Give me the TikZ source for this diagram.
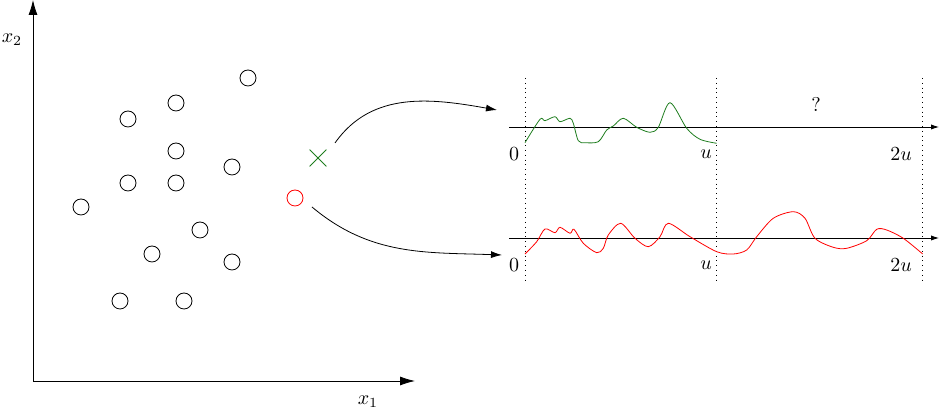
\documentclass[tikz,border=0pt]{standalone}
\usetikzlibrary{arrows.meta,shapes.misc}
\definecolor{darkgreen}{RGB}{30,125,30}
\tikzset{
  sample/.style={circle,draw,minimum size=8pt,inner sep=0pt},
  bigtip/.style={-{Latex[length=7.5pt,width=4.5pt]}},
  midtip/.style={-{Latex[length=5.5pt,width=3.5pt]}},
  smalltip/.style={-{Latex[length=4pt,width=2.6pt]}},
}
\begin{document}
\begin{tikzpicture}[x=0.5pt,y=-0.5pt]
\useasboundingbox (0,0) rectangle (939,410);
\coordinate (origin) at (33,381);
\draw[bigtip] (origin) -- (33,0);
\draw[bigtip] (origin) -- (415,381);
\node at (12,40) {$x_2$};
\node at (368,402) {$x_1$};
\node[sample] (s1) at (248,78) {};
\node[sample] (s2) at (176,103) {};
\node[sample] (s3) at (128,119) {};
\node[sample] (s4) at (176,151) {};
\node[sample] (s5) at (232,167) {};
\node[sample] (s6) at (128,183) {};
\node[sample] (s7) at (176,183) {};
\node[sample] (s8) at (81,207) {};
\node[sample] (s9) at (200,230) {};
\node[sample] (s10) at (152,254) {};
\node[sample] (s11) at (232,262) {};
\node[sample] (s12) at (120,301) {};
\node[sample] (s13) at (184,301) {};
\node[cross out,draw=darkgreen,minimum size=8pt,inner sep=0pt] (known) at (318,158) {};
\node[sample,draw=red] (query) at (295,198) {};
\coordinate (topin) at (497,110);
\coordinate (botin) at (502,255);
\draw[midtip] ([shift={(17,-15)}]known.center) to[out=55,in=170] (topin);
\draw[midtip] ([shift={(17,9)}]query.center) to[out=-40,in=178] (botin);
\draw[smalltip] (509,127) -- (939,127);
\draw[smalltip] (509,238) -- (939,238);
\foreach \x in {525,716,922} \draw[dotted] (\x,78) -- (\x,280);
\node at (514,154) {$0$};
\node at (706,154) {$u$};
\node at (901,154) {$2u$};
\node at (514,265) {$0$};
\node at (706,265) {$u$};
\node at (901,265) {$2u$};
\node at (816,104) {?};
\draw[darkgreen] plot[smooth,tension=0.5] coordinates {(525,142.7) (540,119.3) (545,120.7) (555,116.7) (560,121.7) (570,118.3) (573.3,123.3) (578.3,140.7) (585,142.7) (598.3,141.7) (606.7,130) (613.3,126) (623.3,118.3) (636.7,127.3) (650,132.3) (658.3,127.3) (670,102.7) (686.7,128.3) (700,139.3) (716.7,143.3)};
\draw[red] plot[smooth,tension=0.5] coordinates {(525,254) (536.7,241.7) (545,229) (555,232.7) (560,227.3) (570,233.3) (574,229.3) (583.3,243.3) (596.7,252.7) (603.3,248.3) (608.3,235) (620.7,223.3) (635,238.3) (648.3,246.7) (660,236.7) (668.3,223.3) (690,236.7) (716.7,251.7) (733.3,254) (746.7,250) (756.7,236.7) (773.3,218.3) (793.3,211.7) (805,218.3) (815,238.3) (833.3,247.3) (846.7,248.3) (866.7,240.7) (876.7,229.3) (886.7,230) (903.3,238.3) (922.7,254)};
\end{tikzpicture}
\end{document}
